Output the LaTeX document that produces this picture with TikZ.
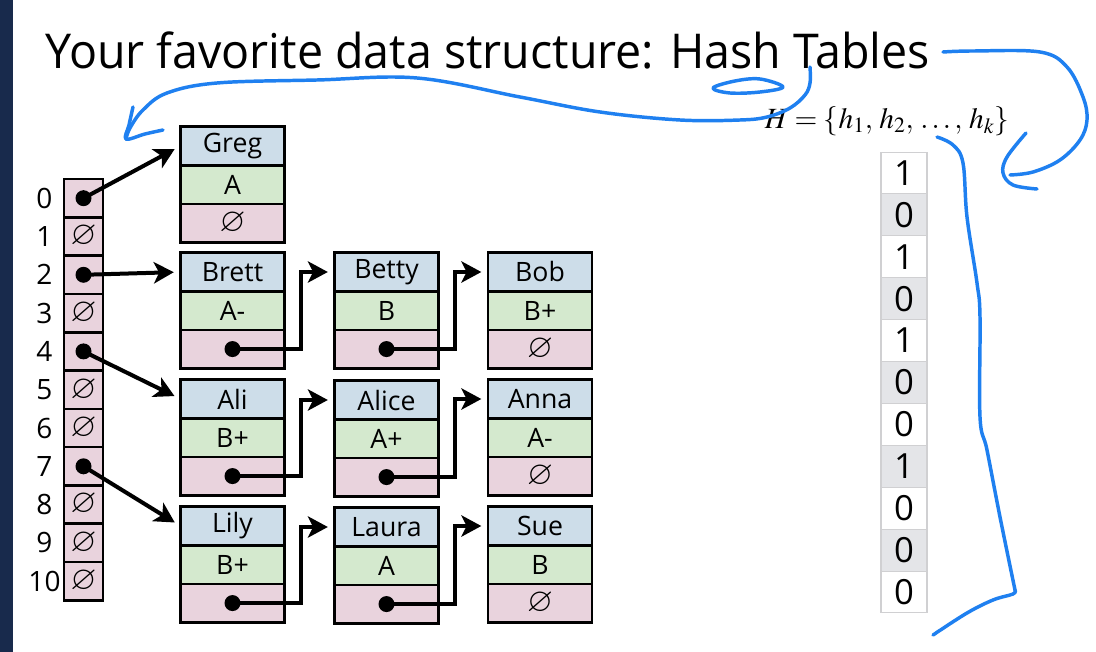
\documentclass[tikz,border=0pt]{standalone}
\usepackage{amssymb}
\usepackage{mathptmx}
\usepackage{fontspec}
\setmainfont{Open Sans}
\newfontfamily\titlefont[FakeStretch=0.97]{Open Sans}
\usetikzlibrary{arrows.meta, positioning, calc}
\definecolor{slidenavy}{RGB}{24, 42, 76}
\definecolor{keyblue}{RGB}{205, 221, 233}
\definecolor{gradegreen}{RGB}{212, 233, 206}
\definecolor{nextpink}{RGB}{233, 211, 221}
\definecolor{inkblue}{RGB}{31, 128, 240}
\definecolor{bitgray}{RGB}{228, 229, 232}
\definecolor{bitline}{RGB}{208, 208, 210}

\tikzset{
  cell/.style={draw, line width=1.9pt, outer sep=0pt, inner sep=0pt,
    minimum width=78pt, minimum height=28.9pt, font=\fontsize{20}{20}\selectfont},
  keycell/.style={cell, fill=keyblue},
  gradecell/.style={cell, fill=gradegreen},
  nextcell/.style={cell, fill=nextpink},
  bucket/.style={cell, fill=nextpink, minimum width=29pt, minimum height=28.7pt},
  bitcell/.style={draw=bitline, line width=0.8pt, outer sep=0pt, inner sep=0pt,
    minimum width=34.5pt, minimum height=31.4pt, font=\fontsize{26}{26}\selectfont},
  link/.style={line width=3pt, -{Stealth[length=15pt, width=16pt, inset=4pt]}, shorten >=5pt},
  ink/.style={inkblue, line width=2.6pt, line cap=round, line join=round}
}
\newcommand{\nil}{{\fontsize{25}{25}\selectfont$\varnothing$}}

\begin{document}
\begin{tikzpicture}[x=0.75pt, y=-0.75pt]
  \useasboundingbox (0,0) rectangle (1096,652);
  \fill[white] (0,0) rectangle (1096,652);
  \fill[slidenavy] (0,0) rectangle (13,652);

  % title
  \node[anchor=base west, font=\titlefont\fontsize{36}{36}\selectfont, inner sep=0pt] (title) at (45,69)
    {Your favorite data structure: Hash Tables};

  % buckets 0..10
  \foreach \i/\c in {0/\relax, 1/\nil, 2/\relax, 3/\nil, 4/\relax,
      5/\nil, 6/\nil, 7/\relax, 8/\nil, 9/\nil, 10/\nil} {
    \node[bucket] (b\i) at (83.5, {198.2+38.3*\i}) {\c};
    \node[inner sep=0pt, font=\fontsize{21}{21}\selectfont] (idx\i) at (44.5, {198.2+38.3*\i}) {\i};
  }

  % records: name / grade / next
  \foreach \id/\cx/\cy/\who/\grade/\nxt in {
      greg/232.5/146/Greg/A/\nil,
      brett/232.5/272/Brett/A-/\relax, betty/386.5/272/Betty/B/\relax, bob/540/272/Bob/B+/\nil,
      ali/232.5/399/Ali/B+/\relax, alice/386.5/400/Alice/A+/\relax, anna/540/399/Anna/A-/\nil,
      lily/232.5/526/Lily/B+/\relax, laura/386.5/527/Laura/A/\relax, sue/540/526/Sue/B/\nil} {
    \node[keycell] (\id) at (\cx,\cy) {\who};
    \node[gradecell, below=0pt of \id] (\id-g) {\grade};
    \node[nextcell, below=0pt of \id-g] (\id-n) {\nxt};
  }

  % bucket pointers
  \foreach \i/\r in {0/greg, 2/brett, 4/ali, 7/lily} {
    \fill (b\i.center) circle (6pt);
    \draw[link] (b\i.center) -- (\r.west);
  }

  % chain pointers
  \foreach \a/\b in {brett/betty, betty/bob, ali/alice, alice/anna, lily/laura, laura/sue} {
    \fill (\a-n.center) circle (6pt);
    \draw[link] (\a-n.center) -- ([xshift=12.5pt]\a-n.east) |- (\b.west);
  }

  % hash family
  \node[font=\fontsize{22}{22}\selectfont] (hfam) at (887,121) {$H = \{h_1,\, h_2,\, \ldots,\, h_k\}$};

  % bit array
  \foreach \i/\v/\shade in {0/1/white, 1/0/bitgray, 2/1/white, 3/0/bitgray, 4/1/white,
      5/0/bitgray, 6/0/white, 7/1/bitgray, 8/0/white, 9/0/bitgray, 10/0/white} {
    \node[bitcell, fill=\shade] (bit\i) at (904, {173+41.9*\i}) {\v};
  }

  % pen strokes
  \draw[ink] plot[smooth, tension=0.6] coordinates {(943,52) (973,51) (1040,52) (1067,67)
    (1083,97) (1087,120) (1080,140) (1060,160) (1033,172) (1010,175)};
  \draw[ink] plot[smooth, tension=0.6] coordinates {(1026,133) (1007,157) (1003,173) (1013,185) (1037,189)};
  \draw[ink] plot[smooth, tension=0.6] coordinates {(810,67) (810,83) (805,95) (790,108) (767,117)
    (740,120) (680,120) (600,112) (520,97) (417,78) (317,80) (217,83) (167,93) (143,110) (130,128) (126,139)};
  \draw[ink] plot[smooth, tension=0.6] coordinates {(133,107) (129,125) (126,139) (145,134) (163,130)};
  \draw[ink] plot[smooth cycle, tension=0.6] coordinates {(713,88) (735,81) (760,79) (783,87) (760,92) (730,93)};
  \draw[ink] plot[smooth, tension=0.6] coordinates {(937,137) (953,145) (963,163) (967,217)
    (977,283) (980,317) (980,417) (987,450) (1000,517) (1015,590)};
  \draw[ink] plot[smooth, tension=0.6] coordinates {(1015,590) (1013,594) (993,600) (967,613) (933,635)};
\end{tikzpicture}
\end{document}
